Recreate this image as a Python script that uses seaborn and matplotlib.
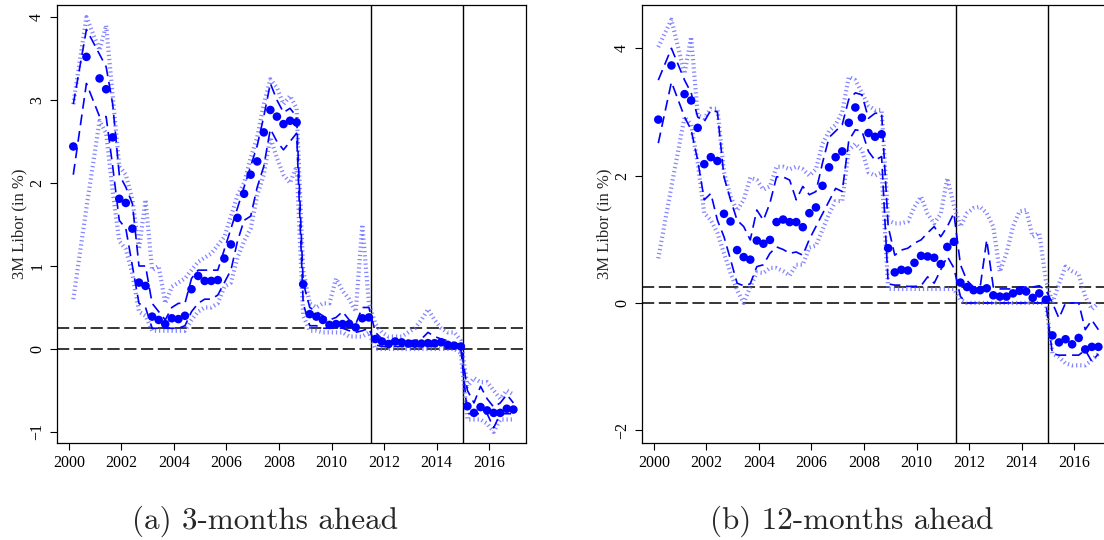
import matplotlib
matplotlib.use("Agg")
import matplotlib.pyplot as plt
import seaborn as sns

# ---------------- data ----------------
dates = [2000.17, 2000.67, 2001.17,
         2001.42, 2001.67, 2001.92, 2002.17, 2002.42, 2002.67, 2002.92, 2003.17,
         2003.42, 2003.67, 2003.92, 2004.17, 2004.42, 2004.67, 2004.92, 2005.17,
         2005.42, 2005.67, 2005.92, 2006.17, 2006.42, 2006.67, 2006.92, 2007.17,
         2007.42, 2007.67, 2007.92, 2008.17, 2008.42, 2008.67, 2008.92, 2009.17,
         2009.42, 2009.67, 2009.92, 2010.17, 2010.42, 2010.67, 2010.92, 2011.17,
         2011.42, 2011.67, 2011.92, 2012.17, 2012.42, 2012.67, 2012.92, 2013.17,
         2013.42, 2013.67, 2013.92, 2014.17, 2014.42, 2014.67, 2014.92, 2015.17,
         2015.42, 2015.67, 2015.92, 2016.17, 2016.42, 2016.67, 2016.92]

# (a) 3-months ahead
m3_point = [2.44, 3.52, 3.26, 3.13, 2.55, 1.81, 1.76, 1.45, 0.80, 0.76, 0.39,
            0.35, 0.30, 0.37, 0.36, 0.40, 0.72, 0.88, 0.82, 0.82, 0.83, 1.09,
            1.26, 1.58, 1.87, 2.10, 2.26, 2.61, 2.88, 2.80, 2.71, 2.75, 2.73,
            0.78, 0.42, 0.39, 0.35, 0.29, 0.30, 0.30, 0.30, 0.26, 0.37, 0.38,
            0.12, 0.09, 0.06, 0.09, 0.08, 0.065, 0.065, 0.065, 0.07, 0.07, 0.08,
            0.05, 0.04, 0.03, -0.69, -0.77, -0.70, -0.74, -0.77, -0.77, -0.72, -0.73]
m3_inner_lo = [2.10, 3.20, 2.80, 2.80, 2.20, 1.55, 1.45, 1.00, 0.55, 0.50, 0.25,
               0.25, 0.25, 0.25, 0.25, 0.28, 0.45, 0.55, 0.60, 0.60, 0.65, 0.80,
               0.95, 1.30, 1.55, 1.60, 1.95, 2.20, 2.65, 2.50, 2.40, 2.50, 2.60,
               0.55, 0.28, 0.28, 0.25, 0.25, 0.25, 0.25, 0.22, 0.20, 0.22, 0.25,
               0.05, 0.03, 0.03, 0.03, 0.03, 0.03, 0.03, 0.03, 0.03, 0.03, 0.03,
               0.03, 0.02, 0.00, -0.78, -0.78, -0.78, -0.78, -0.95, -0.78, -0.78, -0.78]
m3_inner_hi = [2.95, 3.85, 3.55, 3.40, 2.95, 2.10, 1.95, 1.75, 1.00, 1.00, 0.55,
               0.45, 0.35, 0.50, 0.55, 0.55, 0.85, 0.95, 0.95, 0.95, 0.95, 1.20,
               1.45, 1.70, 1.95, 2.20, 2.45, 2.80, 3.20, 3.00, 2.85, 2.90, 2.80,
               0.80, 0.50, 0.45, 0.40, 0.35, 0.38, 0.45, 0.35, 0.30, 0.50, 0.50,
               0.20, 0.12, 0.10, 0.10, 0.10, 0.10, 0.10, 0.12, 0.20, 0.15, 0.12,
               0.10, 0.07, 0.05, -0.50, -0.65, -0.45, -0.60, -0.70, -0.65, -0.55, -0.65]
m3_outer_lo = [0.60, 1.70, 2.75, 2.60, 1.90, 1.30, 1.20, 0.90, 0.45, 0.40, 0.22,
               0.22, 0.22, 0.22, 0.22, 0.22, 0.35, 0.45, 0.50, 0.50, 0.55, 0.75,
               0.80, 1.10, 1.30, 1.45, 1.85, 2.10, 2.55, 2.30, 2.10, 2.00, 2.20,
               0.40, 0.22, 0.22, 0.20, 0.20, 0.20, 0.20, 0.15, 0.15, 0.15, 0.20,
               0.00, 0.00, 0.00, 0.00, 0.00, 0.00, 0.00, 0.00, 0.00, 0.00, 0.00,
               0.00, 0.00, -0.05, -0.85, -0.85, -0.85, -0.90, -1.00, -0.85, -0.85, -0.85]
m3_outer_hi = [2.95, 4.00, 3.60, 3.90, 3.05, 2.20, 2.10, 1.80, 1.20, 1.80, 0.95,
               1.00, 0.55, 0.75, 0.80, 0.85, 0.95, 1.05, 1.10, 1.15, 1.25, 1.35,
               1.60, 1.85, 2.00, 2.30, 2.55, 2.95, 3.25, 3.15, 2.95, 3.05, 2.90,
               0.95, 0.55, 0.50, 0.55, 0.55, 0.85, 0.70, 0.60, 0.45, 1.50, 0.55,
               0.30, 0.20, 0.15, 0.15, 0.15, 0.20, 0.25, 0.35, 0.48, 0.35, 0.25,
               0.20, 0.20, 0.10, -0.45, -0.35, -0.40, -0.40, -0.50, -0.60, -0.50, -0.55]

# (b) 12-months ahead
m12_point = [2.88, 3.73, 3.28, 3.18, 2.75, 2.18, 2.29, 2.23, 1.40, 1.28, 0.83,
             0.72, 0.68, 0.98, 0.93, 0.99, 1.27, 1.31, 1.27, 1.27, 1.19, 1.41,
             1.50, 1.84, 2.13, 2.29, 2.38, 2.83, 3.07, 2.91, 2.67, 2.61, 2.65,
             0.86, 0.48, 0.52, 0.51, 0.63, 0.74, 0.73, 0.71, 0.61, 0.88, 0.96,
             0.32, 0.25, 0.20, 0.20, 0.23, 0.12, 0.10, 0.10, 0.15, 0.19, 0.18,
             0.08, 0.15, 0.05, -0.51, -0.62, -0.57, -0.65, -0.55, -0.73, -0.69, -0.69]
m12_inner_lo = [2.51, 3.47, 2.92, 2.72, 2.24, 1.62, 1.72, 1.30, 1.04, 0.68, 0.31,
                0.27, 0.30, 0.57, 0.60, 0.78, 0.88, 0.84, 0.78, 0.80, 0.75, 1.00,
                1.20, 1.40, 1.60, 1.80, 1.75, 2.55, 2.72, 2.70, 2.38, 2.24, 2.30,
                0.30, 0.28, 0.28, 0.26, 0.26, 0.27, 0.41, 0.31, 0.52, 0.73, 0.55,
                0.10, 0.00, 0.00, 0.00, 0.00, 0.00, 0.00, 0.00, 0.00, 0.00, 0.00,
                0.00, 0.00, 0.00, -0.80, -0.82, -0.82, -0.82, -0.82, -0.74, -0.92, -0.80]
m12_inner_hi = [3.50, 4.00, 3.50, 3.30, 2.92, 2.85, 3.03, 3.00, 1.98, 1.62, 1.30,
                1.20, 0.99, 1.46, 1.30, 1.57, 1.98, 1.98, 1.93, 1.62, 1.83, 1.70,
                1.75, 2.20, 2.60, 2.70, 2.80, 3.20, 3.30, 3.27, 2.90, 2.98, 2.98,
                1.20, 0.75, 0.83, 0.86, 0.94, 0.99, 1.10, 1.20, 1.04, 1.20, 1.41,
                0.60, 0.35, 0.25, 0.25, 0.99, 0.25, 0.22, 0.22, 0.22, 0.25, 0.25,
                0.25, 0.27, 0.20, 0.00, -0.24, 0.00, 0.00, 0.00, -0.42, -0.27, -0.42]
m12_outer_lo = [0.70, 1.83, 2.92, 2.80, 2.20, 1.41, 1.30, 1.10, 0.78, 0.47, 0.20,
                0.00, 0.25, 0.48, 0.47, 0.55, 0.55, 0.50, 0.43, 0.60, 0.60, 0.87,
                0.90, 1.15, 1.40, 1.60, 1.60, 2.40, 2.50, 2.40, 2.05, 2.00, 2.05,
                0.22, 0.22, 0.22, 0.22, 0.22, 0.22, 0.22, 0.22, 0.22, 0.22, 0.22,
                0.05, 0.00, 0.00, 0.00, 0.00, 0.00, 0.00, 0.00, 0.00, 0.00, 0.00,
                0.00, 0.00, 0.00, -0.80, -0.85, -0.95, -0.98, -0.98, -0.98, -0.90, -0.80]
m12_outer_hi = [4.02, 4.45, 3.60, 4.18, 2.95, 2.90, 3.05, 3.05, 2.05, 1.67, 1.45,
                1.62, 1.97, 1.93, 1.78, 1.83, 2.14, 2.14, 2.10, 2.14, 2.10, 2.00,
                2.10, 2.50, 2.70, 2.80, 3.00, 3.55, 3.50, 3.30, 3.10, 3.03, 3.03,
                1.30, 1.25, 1.25, 1.28, 1.51, 1.67, 1.40, 1.25, 1.40, 1.96, 1.53,
                1.20, 1.41, 1.49, 1.51, 1.41, 1.20, 0.49, 0.78, 1.20, 1.44, 1.46,
                1.04, 1.10, 0.36, 0.00, 0.30, 0.57, 0.50, 0.45, 0.10, -0.10, 0.00]

x_ticks = [2000, 2002, 2004, 2006, 2008, 2010, 2012, 2014, 2016]
ylabel = "3M Libor (in %)"
captions = ["(a) 3-months ahead", "(b) 12-months ahead"]
ref_levels = [0.0, 0.25]
breaks = [2011.5, 2015.0]

# ---------------- style ----------------
sns.set_theme(style="ticks")
plt.rcParams["font.family"] = ["Liberation Serif", "DejaVu Serif"]
plt.rcParams.update({
    "axes.edgecolor": "black",
    "axes.linewidth": 0.9,
    "xtick.color": "black",
    "ytick.color": "black",
    "xtick.major.size": 5,
    "ytick.major.size": 5,
    "xtick.major.width": 0.8,
    "ytick.major.width": 0.8,
    "xtick.direction": "out",
    "ytick.direction": "out",
})

W, H = 1104, 540
fig = plt.figure(figsize=(W / 100, H / 100), dpi=100)
fig.patch.set_facecolor("white")

ax_a = fig.add_axes([57 / W, 1 - 443 / H, 469 / W, 438 / H])
ax_b = fig.add_axes([642 / W, 1 - 443 / H, 469 / W, 438 / H])

BLUE = "#0000ff"
LIGHT = (0.4, 0.4, 1.0)


def draw(ax, point, ilo, ihi, olo, ohi, ylim, yticks):
    for s in (olo, ohi):
        sns.lineplot(x=dates, y=s, ax=ax, color=LIGHT, alpha=0.8, linewidth=3.0,
                     linestyle=(0, (0.3, 0.7)), estimator=None, sort=False,
                     zorder=2)
    for s in (ilo, ihi):
        sns.lineplot(x=dates, y=s, ax=ax, color=BLUE, linewidth=1.2,
                     linestyle=(0, (6.5, 3.5)), estimator=None, sort=False,
                     zorder=3)
    sns.scatterplot(x=dates, y=point, ax=ax, color=BLUE, s=38,
                    edgecolor="none", linewidth=0, zorder=5)
    for lv in ref_levels:
        ax.axhline(lv, color="black", linewidth=1.1, linestyle=(0, (8, 3)),
                   zorder=1)
    for b in breaks:
        ax.axvline(b, color="black", linewidth=1.0, zorder=1)
    ax.set_xlim(1999.55, 2017.4)
    ax.set_ylim(*ylim)
    ax.set_xticks(x_ticks)
    ax.set_xticklabels([str(t) for t in x_ticks], fontsize=11.5)
    ax.set_yticks(yticks)
    ax.set_yticklabels([str(t).replace("-", "\u2212") for t in yticks],
                       fontsize=11.5, rotation=90, va="center")
    ax.set_ylabel(ylabel, fontsize=12, labelpad=1)
    ax.set_xlabel("")
    for sp in ax.spines.values():
        sp.set_visible(True)
        sp.set_color("black")
    ax.grid(False)
    leg = ax.get_legend()
    if leg is not None:
        leg.remove()


draw(ax_a, m3_point, m3_inner_lo, m3_inner_hi, m3_outer_lo, m3_outer_hi,
     (-1.133, 4.145), [-1, 0, 1, 2, 3, 4])
draw(ax_b, m12_point, m12_inner_lo, m12_inner_hi, m12_outer_lo, m12_outer_hi,
     (-2.2, 4.68), [-2, 0, 2, 4])

fig.text(265 / W, 1 - 521 / H, captions[0], family=["cmr10", "DejaVu Serif"],
         fontsize=22.4, ha="center", va="center")
fig.text(852 / W, 1 - 521 / H, captions[1], family=["cmr10", "DejaVu Serif"],
         fontsize=22.4, ha="center", va="center")

fig.savefig("out.png", dpi=100, facecolor="white")
